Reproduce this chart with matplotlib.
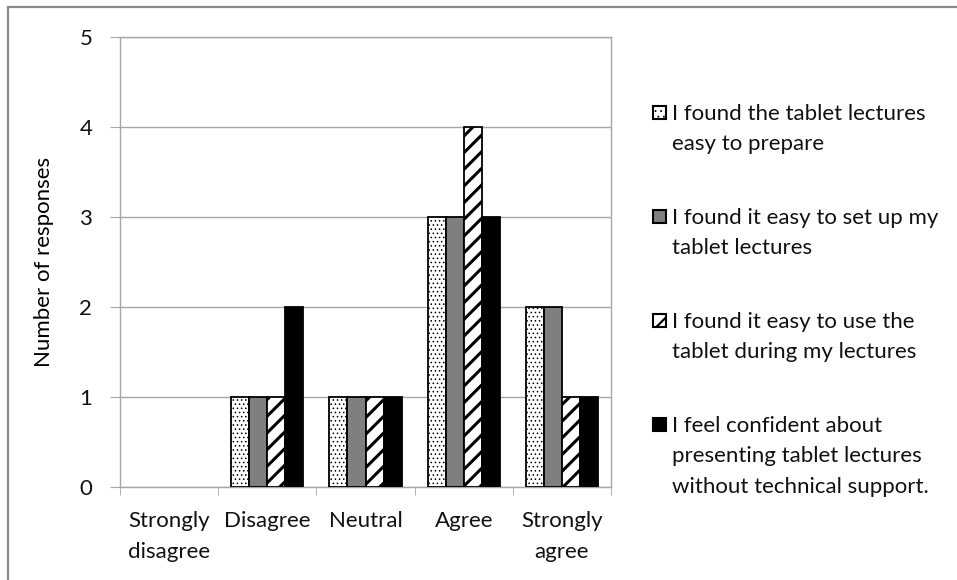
import matplotlib
matplotlib.use("Agg")
import matplotlib.pyplot as plt
from matplotlib.patches import Rectangle
import numpy as np

categories = ["Strongly\ndisagree", "Disagree", "Neutral", "Agree", "Strongly\nagree"]
prepare = [0, 1, 1, 3, 2]
setup = [0, 1, 1, 3, 2]
use_during = [0, 1, 1, 4, 1]
confident = [0, 2, 1, 3, 1]
labels = ["I found the tablet lectures\neasy to prepare",
          "I found it easy to set up my\ntablet lectures",
          "I found it easy to use the\ntablet during my lectures",
          "I feel confident about\npresenting tablet lectures\nwithout technical support."]

plt.rcParams["font.family"] = ["Lato", "DejaVu Sans"]
plt.rcParams["text.color"] = "#111111"
FS = 16

W, H = 957, 580
fig = plt.figure(figsize=(W / 100, H / 100), dpi=100)
ax = fig.add_axes([120 / W, 1 - 487 / H, (611 - 120) / W, (487 - 37) / H])

# outer chart frame (only top and left edges fall inside the image)
fig.add_artist(Rectangle((8 / W, -0.1), 1.2, 1.1 - 7 / H, transform=fig.transFigure,
                         fill=False, edgecolor="#8a8a8a", linewidth=1.6))

series = [prepare, setup, use_during, confident]
styles = [dict(color="white", hatch="....", hlw=0.6),
          dict(color="#7f7f7f", hatch=None, hlw=1.0),
          dict(color="white", hatch="//", hlw=2.2),
          dict(color="black", hatch=None, hlw=1.0)]

x = np.arange(len(categories))
bw = 0.184
for i, (vals, st) in enumerate(zip(series, styles)):
    with plt.rc_context({"hatch.linewidth": st["hlw"]}):
        bars = ax.bar(x + (i - 1.5) * bw, vals, bw, color=st["color"],
                      edgecolor="black", linewidth=1.3, hatch=st["hatch"], zorder=3)
    for b in bars:
        if hasattr(b, "set_hatch_linewidth"):
            b.set_hatch_linewidth(st["hlw"])
        if b.get_height() == 0:
            b.set_visible(False)

ax.set_xlim(-0.5, len(categories) - 0.5)
ax.set_ylim(0, 5)
ax.set_yticks(range(6))
ax.yaxis.grid(True, color="#a6a6a6", linewidth=1.0, zorder=0)
ax.set_axisbelow(True)
for s in ax.spines.values():
    s.set_color("#a6a6a6")
    s.set_linewidth(1.0)

ax.set_xticks(x)
ax.set_xticklabels(categories, fontsize=FS, linespacing=1.7)
ax.tick_params(axis="x", which="major", length=0, pad=17, labelcolor="#111111")
ax.set_xticks(np.arange(-0.5, len(categories)), minor=True)
ax.tick_params(axis="x", which="minor", length=6, color="#a6a6a6", direction="out")
ax.tick_params(axis="y", length=7, color="#a6a6a6", labelsize=FS, pad=13, labelcolor="#111111")
ax.set_ylabel("Number of responses", fontsize=FS, labelpad=18)

# legend drawn as squares and wrapped text beside the plot area
legend_y = [113, 217, 321, 425]
for st, lab, ly in zip(styles, labels, legend_y):
    with plt.rc_context({"hatch.linewidth": min(st["hlw"], 1.6)}):
        r = Rectangle((653 / W, 1 - (ly + 6) / H), 13 / W, 13 / H, transform=fig.transFigure,
                      facecolor=st["color"], edgecolor="black", linewidth=1.5,
                      hatch=("//" if st["hatch"] == "//" else ("..." if st["hatch"] else None)))
    fig.add_artist(r)
    fig.text(672 / W, 1 - (ly - 9) / H, lab, fontsize=FS, va="top", ha="left",
             linespacing=1.65, transform=fig.transFigure)

fig.savefig("out.png", dpi=100)
